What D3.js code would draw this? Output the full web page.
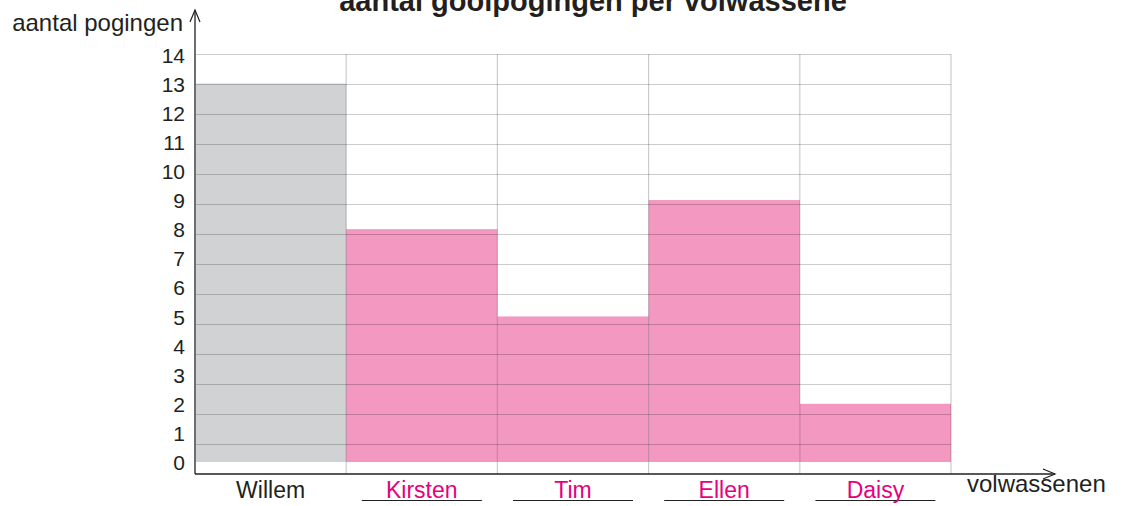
<!DOCTYPE html>
<html>
<head>
<meta charset="utf-8">
<script src="https://cdn.jsdelivr.net/npm/d3@7"></script>
<style>
  body { margin: 0; background: #fff; }
  svg { display: block; font-family: "Liberation Sans", Arial, sans-serif; }
</style>
</head>
<body>
<svg id="chart" width="1122" height="506"></svg>
<script>
// data
let people = ["Willem", "Kirsten", "Tim", "Ellen", "Daisy"];
let attempts = [13, 8, 5, 9, 2];
let yTickValues = d3.range(0, 15);
let title = "aantal gooipogingen per volwassene";
let yTitle = "aantal pogingen";
let xTitle = "volwassenen";

let svg = d3.select("#chart");
let left = 195, right = 951;

let x = d3.scaleBand().domain(people).range([left, right]).padding(0);
// bars + labels sit on one scale, the grid on a slightly longer one
let y = d3.scaleLinear().domain([0, 14]).range([462, 54.5]);
let yGrid = d3.scaleLinear().domain([0, 14]).range([474, 54]);

let gray = "#d1d2d4", pink = "#f398c0", magenta = "#e5007d";

// bars
svg.append("g").selectAll("rect")
    .data(attempts)
    .enter().append("rect")
    .attr("x", (d, i) => x(people[i]))
    .attr("y", d => y(d))
    .attr("width", x.bandwidth())
    .attr("height", d => y(0) - y(d))
    .style("fill", (d, i) => i === 0 ? gray : pink);

// horizontal grid
let grid = svg.append("g")
    .attr("transform", "translate(" + left + ",0)")
    .call(d3.axisLeft(yGrid).tickValues(d3.range(1, 15)).tickSize(-(right - left)).tickFormat(""));
grid.select(".domain").remove();
grid.selectAll("line").attr("stroke", "rgba(0,0,0,0.2)").attr("stroke-width", 1.2);

// vertical grid at band edges
svg.append("g").selectAll("line")
    .data(people)
    .enter().append("line")
    .attr("x1", d => x(d) + x.bandwidth())
    .attr("x2", d => x(d) + x.bandwidth())
    .attr("y1", yGrid(14))
    .attr("y2", yGrid(0))
    .attr("stroke", "rgba(0,0,0,0.2)")
    .attr("stroke-width", 1.2);

// y tick labels
let yAxis = svg.append("g")
    .attr("transform", "translate(" + (left - 10) + ",0)")
    .call(d3.axisLeft(y).tickValues(yTickValues).tickSize(0).tickPadding(0));
yAxis.select(".domain").remove();
yAxis.selectAll("text")
    .attr("font-size", 21)
    .attr("font-family", "Liberation Sans, Arial, sans-serif")
    .attr("fill", "#231f20")
    .attr("dy", "0.36em");

// axes lines + arrows
svg.append("line")
    .attr("x1", left).attr("x2", left)
    .attr("y1", yGrid(0)).attr("y2", 10)
    .attr("stroke", "#6d6e71").attr("stroke-width", 2);
svg.append("polyline")
    .attr("points", [[left - 5, 22], [left, 10], [left + 5, 22]].join(" "))
    .attr("fill", "none").attr("stroke", "#231f20").attr("stroke-width", 1.2);
svg.append("line")
    .attr("x1", left).attr("x2", 1055)
    .attr("y1", yGrid(0)).attr("y2", yGrid(0))
    .attr("stroke", "#231f20").attr("stroke-width", 1.5);
svg.append("polyline")
    .attr("points", [[1043, yGrid(0) - 5], [1055, yGrid(0)], [1043, yGrid(0) + 5]].join(" "))
    .attr("fill", "none").attr("stroke", "#231f20").attr("stroke-width", 1.2);

// x labels, the pink ones written on a blank line
let names = svg.append("g").selectAll("g")
    .data(people)
    .enter().append("g")
    .attr("transform", d => "translate(" + (x(d) + x.bandwidth() / 2) + ",0)");
names.filter((d, i) => i > 0).append("line")
    .attr("x1", -60).attr("x2", 60)
    .attr("y1", 500.5).attr("y2", 500.5)
    .attr("stroke", "#231f20").attr("stroke-width", 1.2);
names.append("text")
    .attr("text-anchor", "middle")
    .attr("y", 498)
    .attr("font-size", 23)
    .attr("fill", (d, i) => i === 0 ? "#231f20" : magenta)
    .text(d => d);

// titles
svg.append("text")
    .attr("x", 593).attr("y", 11)
    .attr("text-anchor", "middle")
    .attr("font-size", 29)
    .attr("font-weight", "bold")
    .attr("fill", "#231f20")
    .text(title);
svg.append("text")
    .attr("x", 183).attr("y", 31)
    .attr("text-anchor", "end")
    .attr("font-size", 24)
    .attr("fill", "#231f20")
    .text(yTitle);
svg.append("text")
    .attr("x", 967).attr("y", 492)
    .attr("font-size", 24)
    .attr("fill", "#231f20")
    .text(xTitle);
</script>
</body>
</html>
